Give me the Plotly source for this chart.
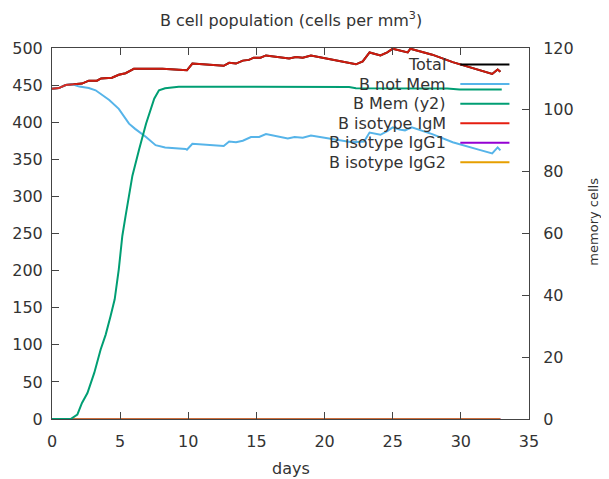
import plotly.graph_objects as go

# ---- data ----
days_total = [0, 0.5, 1.0, 1.4, 2.2, 2.7, 3.3, 3.6, 4.4, 4.9, 5.4, 5.9, 6.0, 8.1, 9.9, 10.3,
              12.6, 13.0, 13.5, 14.0, 14.45, 14.8, 15.3, 15.7, 17.4, 17.9, 18.4, 19.0, 20.5,
              21.5, 22.3, 22.8, 23.3, 24.1, 24.6, 25.0, 25.5, 26.1, 26.3, 27.9, 29.4, 30.3,
              31.3, 32.3, 32.7, 32.9]
b_total = [445, 446, 450, 451, 452, 456, 456, 459, 460, 464, 466, 471, 472, 472, 470, 479,
           476, 480, 479, 483, 484, 487, 487, 490, 486, 488, 487, 490, 485,
           481, 478, 482, 494, 490, 494, 499, 497, 494, 499, 491, 481, 476,
           470, 465, 471, 468]
b_igm = list(b_total)

days_notmem = [0, 0.5, 1.0, 1.5, 2.0, 2.7, 3.2, 3.6, 4.2, 4.9, 5.3, 5.65, 6.1, 6.9, 7.6, 8.3,
               9.8, 9.9, 10.3, 12.6, 13.0, 13.5, 14.0, 14.6, 15.2, 15.7, 17.3, 17.8, 18.4,
               19.0, 22.0, 22.9, 23.3, 24.1, 24.6, 25.0, 25.5, 25.9, 26.4, 27.9, 29.4, 30.3,
               31.3, 32.3, 32.7, 32.9]
b_notmem = [445, 446, 450, 451, 448, 446, 443, 438, 430, 418, 408, 398, 391, 380, 369, 366,
            364, 363, 371, 368, 374, 373, 375, 380, 380, 384, 378, 380, 379,
            382, 373, 374, 386, 383, 388, 393, 390, 389, 393, 384, 373, 368,
            363, 358, 366, 362]

days_mem = [0, 1.37, 1.86, 2.2, 2.6, 3.1, 3.57, 3.94, 4.3, 4.6, 4.9, 5.16, 5.4, 5.65, 5.9,
            6.4, 6.9, 7.5, 7.85, 8.3, 9.3, 21.8, 22.3, 29.0, 29.9, 33.0]
b_mem = [0, 0, 1.4, 5.2, 8.4, 14.9, 22.5, 27.3, 33.3, 38.7, 48.4, 59.2, 65.7, 72.7, 78.7,
         87.3, 95.5, 103.6, 106.3, 107.0, 107.5, 107.4, 107.0, 106.9, 106.6, 106.6]

days_igg = [0, 32.9]
b_igg1 = [0, 0]
b_igg2 = [0, 0]

x_ticks = [0, 5, 10, 15, 20, 25, 30, 35]
y_ticks = [0, 50, 100, 150, 200, 250, 300, 350, 400, 450, 500]
y2_ticks = [0, 20, 40, 60, 80, 100, 120]

names = ["Total", "B not Mem", "B Mem (y2)", "B isotype IgM", "B isotype IgG1", "B isotype IgG2"]
colors = ["#000000", "#56b4e9", "#009e73", "#e51e10", "#9400d3", "#e69f00"]
opacities = [1.0, 1.0, 1.0, 0.9, 1.0, 0.7]

FONT = "DejaVu Sans"
FS = 16
TXT = "#333333"
AX = "#444444"

fig = go.Figure()
series = [
    (days_total, b_total, "y"),
    (days_notmem, b_notmem, "y"),
    (days_mem, b_mem, "y2"),
    (days_total, b_igm, "y"),
    (days_igg, b_igg1, "y"),
    (days_igg, b_igg2, "y"),
]
for (xs, ys, ax), nm, c, op in zip(series, names, colors, opacities):
    fig.add_trace(go.Scatter(x=xs, y=ys, mode="lines", name=nm, yaxis=ax, opacity=op,
                             line=dict(color=c, width=2), showlegend=False))

# gnuplot-style legend: right-aligned text followed by a sample line
y0 = 0.9554
dy = 0.0527
for i, (nm, c) in enumerate(zip(names, colors)):
    yy = y0 - i * dy
    fig.add_annotation(x=0.831, y=yy, xref="paper", yref="paper", text=nm,
                       showarrow=False, xanchor="right", yanchor="middle",
                       font=dict(family=FONT, size=FS, color=TXT))
    fig.add_shape(type="line", xref="paper", yref="paper", x0=0.856, x1=0.959,
                  y0=yy, y1=yy, line=dict(color=c, width=2))

# axis titles
fig.add_annotation(x=0.5, y=-0.133, xref="paper", yref="paper", text="days",
                   showarrow=False, xanchor="center", yanchor="middle",
                   font=dict(family=FONT, size=FS, color=TXT))
fig.add_annotation(x=1.135, y=0.533, xref="paper", yref="paper", text="memory cells",
                   showarrow=False, xanchor="center", yanchor="middle", textangle=-90,
                   font=dict(family=FONT, size=13, color=TXT))

fig.update_layout(
    width=601, height=471,
    margin=dict(l=44, r=80, t=40, b=60, autoexpand=False),
    paper_bgcolor="white", plot_bgcolor="white",
    font=dict(family=FONT, size=FS, color=TXT),
    title=dict(text="B cell population (cells per mm<sup>3</sup>)", x=0.471, xanchor="center",
               y=0.9745, yanchor="middle", font=dict(family=FONT, size=FS, color=TXT)),
    xaxis=dict(range=[0, 35], tickvals=x_ticks, ticks="inside", ticklen=7, tickcolor=AX,
               showline=True, linecolor=AX, linewidth=1, mirror="ticks", showgrid=False,
               zeroline=False, ticklabelstandoff=8,
               tickfont=dict(family=FONT, size=FS, color=TXT)),
    yaxis=dict(range=[0, 500], tickvals=y_ticks, ticks="inside", ticklen=7, tickcolor=AX,
               showline=True, linecolor=AX, linewidth=1, mirror=False, showgrid=False,
               zeroline=False, ticklabelstandoff=5,
               tickfont=dict(family=FONT, size=FS, color=TXT)),
    yaxis2=dict(range=[0, 120], tickvals=y2_ticks, ticks="inside", ticklen=7, tickcolor=AX,
                overlaying="y", side="right", showline=True, linecolor=AX, linewidth=1,
                showgrid=False, zeroline=False, ticklabelstandoff=10,
                tickfont=dict(family=FONT, size=FS, color=TXT)),
)

fig.write_html("out.html")
